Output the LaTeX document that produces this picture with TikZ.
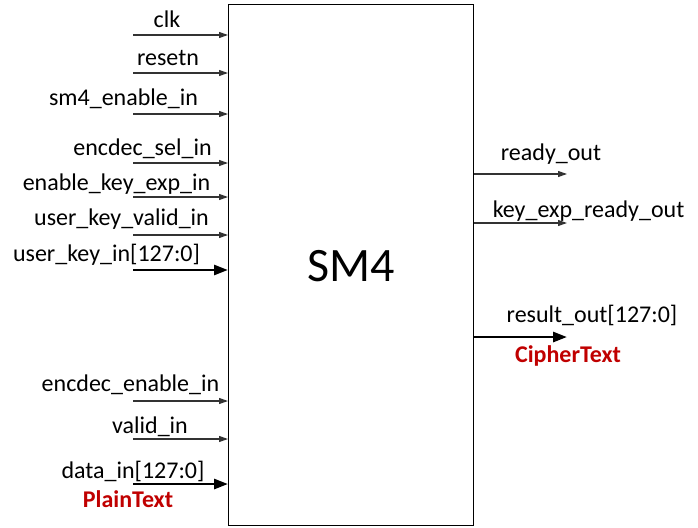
\documentclass[tikz,border=0pt]{standalone}
\usepackage{fontspec}
\setmainfont{Carlito}
\usetikzlibrary{arrows.meta}
\definecolor{wire}{HTML}{333333}
\definecolor{darkred}{HTML}{C00000}
\tikzset{
  sig/.style={draw=wire, line width=1.1pt, -{Triangle[length=9pt,width=6pt]}},
  bus/.style={draw=black, line width=2.8pt, -{Triangle[length=14pt,width=10pt]}},
  lbl/.style={anchor=base, inner sep=0pt, font=\fontsize{24}{28}\selectfont},
  tag/.style={anchor=base, inner sep=0pt, font=\fontsize{24}{28}\selectfont\bfseries, text=darkred},
}
\begin{document}
\begin{tikzpicture}[x=1pt,y=-1pt]
\useasboundingbox (0,0) rectangle (698,527);
\node[draw=black, line width=1pt, minimum width=245pt, minimum height=521pt, inner sep=0pt, anchor=north west] (box) at (228,4) {};
\node[anchor=base, font=\fontsize{48}{52}\selectfont] (title) at (351,281) {SM4};
% left inputs
\coordinate (i1) at (133,35);
\coordinate (i2) at (133,73);
\coordinate (i3) at (133,114);
\coordinate (i4) at (133,163);
\coordinate (i5) at (133,197);
\coordinate (i6) at (133,235);
\coordinate (i7) at (133,270);
\coordinate (i8) at (133,401);
\coordinate (i9) at (133,439);
\coordinate (i10) at (133,484);
\draw[sig] (i1) -- (box.west |- i1);
\draw[sig] (i2) -- (box.west |- i2);
\draw[sig] (i3) -- (box.west |- i3);
\draw[sig] (i4) -- (box.west |- i4);
\draw[sig] (i5) -- (box.west |- i5);
\draw[sig] (i6) -- (box.west |- i6);
\draw[bus] (i7) -- (box.west |- i7);
\draw[sig] (i8) -- (box.west |- i8);
\draw[sig] (i9) -- (box.west |- i9);
\draw[bus] (i10) -- (box.west |- i10);
\node[lbl] (l1) at (167,28) {clk};
\node[lbl] (l2) at (168,66) {resetn};
\node[lbl] (l3) at (123.5,105) {sm4\_enable\_in};
\node[lbl] (l4) at (142.5,155) {encdec\_sel\_in};
\node[lbl] (l5) at (116.5,190) {enable\_key\_exp\_in};
\node[lbl] (l6) at (121.5,225) {user\_key\_valid\_in};
\node[lbl] (l7) at (106.5,261) {user\_key\_in[127:0]};
\node[lbl] (l8) at (130.5,391) {encdec\_enable\_in};
\node[lbl] (l9) at (150,433) {valid\_in};
\node[lbl] (l10) at (133,478) {data\_in[127:0]};
\node[tag] (pt) at (128,507) {PlainText};
% right outputs
\coordinate (o1) at (567,174);
\coordinate (o2) at (567,223);
\coordinate (o3) at (567,337);
\draw[sig] (box.east |- o1) -- (o1);
\draw[sig] (box.east |- o2) -- (o2);
\draw[bus] (box.east |- o3) -- (o3);
\node[lbl] (r1) at (551,160) {ready\_out};
\node[lbl] (r2) at (588.5,217) {key\_exp\_ready\_out};
\node[lbl] (r3) at (592,322) {result\_out[127:0]};
\node[tag] (ct) at (568,362) {CipherText};
\end{tikzpicture}
\end{document}
